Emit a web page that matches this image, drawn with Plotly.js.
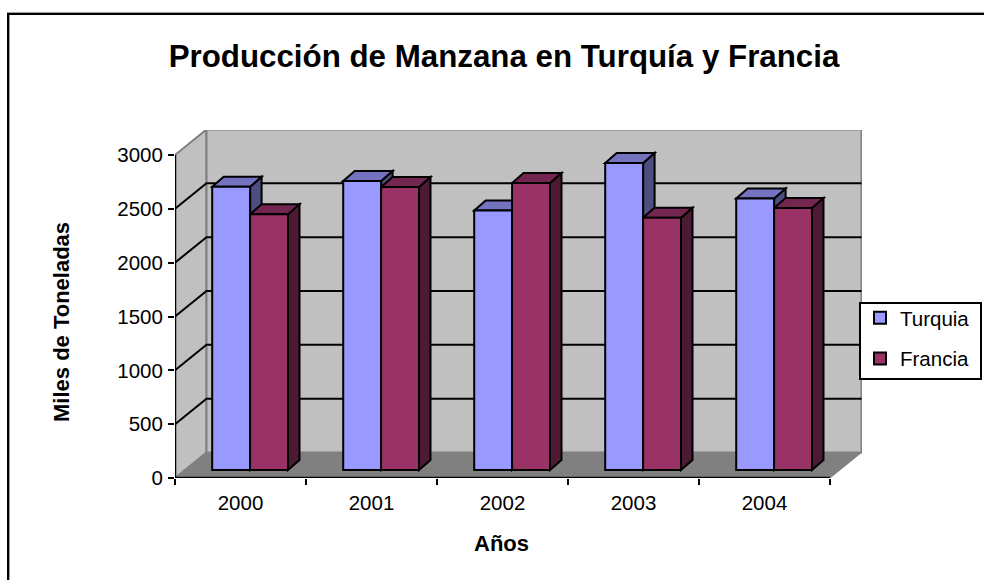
<!DOCTYPE html>
<html><head><meta charset="utf-8">
<script src="https://cdn.plot.ly/plotly-3.0.1.min.js"></script>
<style>html,body{margin:0;padding:0;background:#fff}#c{width:984px;height:580px}</style>
</head><body><div id="c"></div>
<script>
const years = [2000, 2001, 2002, 2003, 2004];
const turquia = [2631, 2684, 2410, 2851, 2522];
const francia = [2375, 2628, 2665, 2343, 2433];
const yTicks = [0, 500, 1000, 1500, 2000, 2500, 3000];
const xBounds = [1999.5, 2000.5, 2001.5, 2002.5, 2003.5, 2004.5];

// scale helpers (only used to express offsets in data units)
const PX_X = 131, PX_Y = 0.10767;
const L = 175, R = 122, T = 130, B = 102, W = 984, H = 580;
const plotW = W - L - R, plotH = H - T - B;
const xMin = 1999.5, xMax = xMin + plotW / PX_X, yMax = plotH / PX_Y;
const wallDx = 31.5 / PX_X, wallDy = 25.5 / PX_Y;
const frontDx = 9.6 / PX_X, frontDy = 8 / PX_Y;
const barDx = 11.5 / PX_X, barDy = 10 / PX_Y;
const barW = 37.9 / PX_X;

const poly = pts => 'M' + pts.map(p => p[0] + ',' + p[1]).join('L') + 'Z';
const shape = (pts, fill, color, width) => ({
  type: 'path', xref: 'x', yref: 'y', layer: 'below', path: poly(pts),
  fillcolor: fill, line: {color: color, width: width}
});
const shapes = [];
const x0 = xBounds[0], x1 = xBounds[5];
// side wall, back wall, floor
shapes.push(shape([[x0,0],[x0+wallDx,wallDy],[x0+wallDx,3000+wallDy],[x0,3000]], '#c0c0c0', '#808080', 2));
shapes.push(shape([[x0+wallDx,wallDy],[x1+wallDx,wallDy],[x1+wallDx,3000+wallDy],[x0+wallDx,3000+wallDy]], '#c0c0c0', '#808080', 2));
shapes.push(shape([[x0,0],[x1,0],[x1+wallDx,wallDy],[x0+wallDx,wallDy]], '#808080', '#808080', 1));
// grid lines
yTicks.slice(1, -1).forEach(v => {
  shapes.push({type:'path', xref:'x', yref:'y', layer:'below',
    path:`M${x0},${v}L${x0+wallDx},${v+wallDy}L${x1+wallDx},${v+wallDy}`,
    line:{color:'#000', width:2}});
});
// top and side faces of the bars
function faces(vals, off, topCol, sideCol) {
  years.forEach((y, i) => {
    const a = y + off + frontDx, b = a + barW, v = vals[i] + frontDy;
    shapes.push(shape([[b,frontDy],[b+barDx,frontDy+barDy],[b+barDx,v+barDy],[b,v]], sideCol, '#000', 2));
    shapes.push(shape([[a,v],[b,v],[b+barDx,v+barDy],[a+barDx,v+barDy]], topCol, '#000', 2));
  });
}
faces(turquia, -barW, '#7373bf', '#4d4d80');
faces(francia, 0, '#732650', '#4d1a33');
// axis lines
shapes.push({type:'line', xref:'x', yref:'y', layer:'above', x0:x0, x1:x1, y0:0, y1:0, line:{color:'#000', width:2.5}});
shapes.push({type:'line', xref:'x', yref:'y', layer:'above', x0:x0, x1:x0, y0:0, y1:3000, line:{color:'#000', width:2.5}});
// chart frame: top and left edges only, running off the page
const px = v => (v - L) / plotW, py = v => (H - B - v) / plotH;
const frameLine = (a, b, c, d, col, w) => ({type:'line', xref:'paper', yref:'paper', layer:'above',
  x0:px(a), x1:px(b), y0:py(c), y1:py(d), line:{color:col, width:w}});
shapes.push(frameLine(7, W, 12.5, 12.5, '#a0a0a0', 1));
shapes.push(frameLine(9.5, 9.5, 15, H, '#a0a0a0', 1));
shapes.push(frameLine(7, W, 14, 14, '#000', 2));
shapes.push(frameLine(8, 8, 13, H, '#000', 2));
// legend box
shapes.push({type:'rect', xref:'paper', yref:'paper', layer:'above',
  x0:px(860), x1:px(981), y0:py(379), y1:py(303), fillcolor:'#fff', line:{color:'#000', width:2}});

const bar = (name, vals, off, col) => ({
  type:'bar', name:name, x:years, y:vals, base:frontDy, width:barW,
  offset: off + frontDx, legendgroup:name, hoverinfo:'x+y',
  marker:{color:col, line:{color:'#000', width:2}}
});
const traces = [
  bar('Turquia', turquia, -barW, '#9999ff'),
  bar('Francia', francia, 0, '#993366')
];
const font = {family:'"Liberation Sans", Arial, sans-serif', color:'#000'};
const bold = {family:font.family, color:'#000', size:22, weight:700};
const layout = {
  width:W, height:H, paper_bgcolor:'#fff', plot_bgcolor:'rgba(0,0,0,0)',
  margin:{l:L, r:R, t:T, b:B, pad:0, autoexpand:false},
  font:Object.assign({size:20.5}, font),
  title:{text:'Producción de Manzana en Turquía y Francia', x:504/W, xanchor:'center', xref:'container',
    y:1-56/H, yanchor:'middle', font:Object.assign({}, font, {size:31.3, weight:700})},
  barmode:'overlay',
  showlegend:true,
  legend:{x:px(860), xanchor:'left', y:py(298), yanchor:'top',
    bgcolor:'rgba(0,0,0,0)', borderwidth:0, font:Object.assign({}, font, {size:20.5}),
    traceorder:'grouped', tracegroupgap:11, itemclick:false, itemdoubleclick:false},
  xaxis:{type:'linear', range:[xMin, xMax], showgrid:false, zeroline:false, showline:false,
    tickmode:'array', tickvals:years, ticktext:years.map(String), ticks:'', ticklen:0,
    ticklabelstandoff:10, tickfont:Object.assign({size:20.5}, font),
    minor:{tickmode:'array', tickvals:xBounds, ticks:'outside', ticklen:6, tickwidth:2, tickcolor:'#000', showgrid:false}},
  yaxis:{type:'linear', range:[0, yMax], showgrid:false, zeroline:false, showline:false,
    tickmode:'array', tickvals:yTicks, ticks:'outside', ticklen:6, tickwidth:2, tickcolor:'#000',
    ticklabelstandoff:1, tickfont:Object.assign({size:20.5}, font)},
  annotations:[
    {text:'Años', xref:'paper', yref:'paper', x:px(501), y:py(543), xanchor:'center', yanchor:'middle', showarrow:false, font:bold},
    {text:'Miles de Toneladas', xref:'paper', yref:'paper', x:px(61), y:py(322), xanchor:'center', yanchor:'middle', textangle:-90, showarrow:false, font:bold}
  ],
  shapes:shapes
};
Plotly.newPlot('c', traces, layout, {displayModeBar:false});
</script></body></html>
